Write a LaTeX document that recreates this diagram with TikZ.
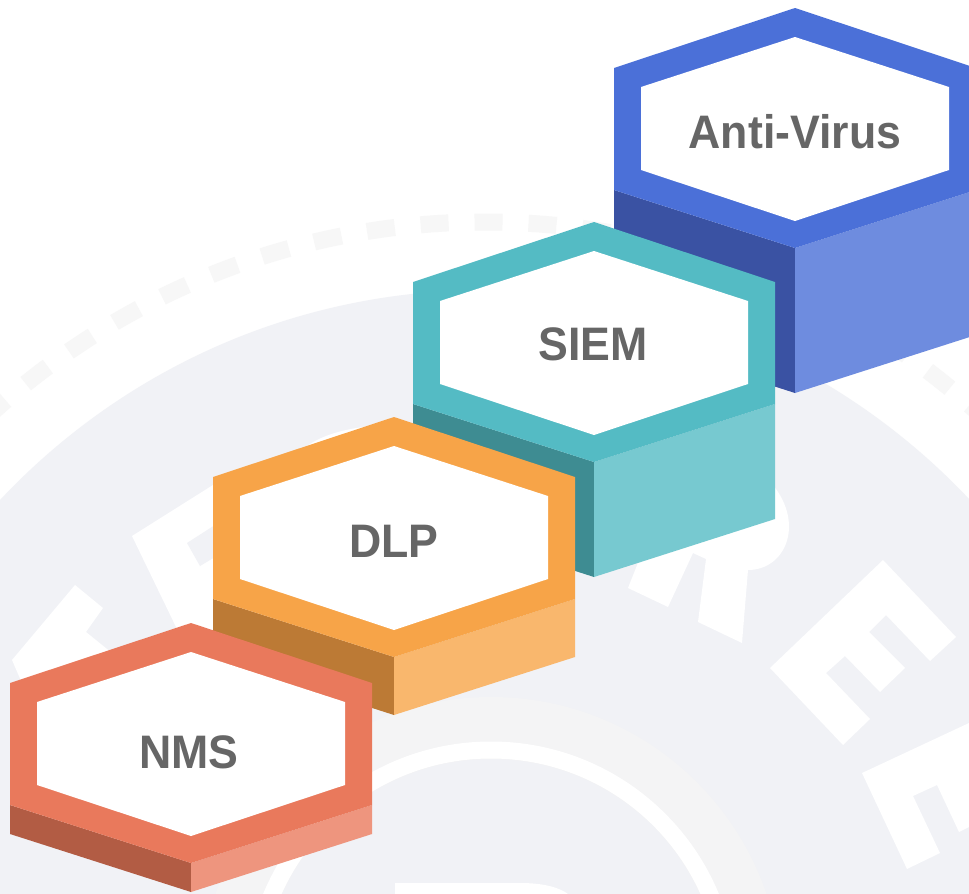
\documentclass[tikz,border=0pt]{standalone}
\usepackage{fontspec}
\newfontfamily\labfont[FakeStretch=0.95]{Liberation Sans}
\definecolor{bggray}{HTML}{F1F2F6}
\definecolor{dashgray}{HTML}{F7F7F7}
\definecolor{ringgray}{HTML}{F4F4F5}
\definecolor{txtgray}{HTML}{666666}
\definecolor{bluetop}{HTML}{4B70D8}
\definecolor{bluedark}{HTML}{3A52A3}
\definecolor{bluelight}{HTML}{6E8CDF}
\definecolor{tealtop}{HTML}{54BBC4}
\definecolor{tealdark}{HTML}{3E8C92}
\definecolor{teallight}{HTML}{77C9D0}
\definecolor{orangetop}{HTML}{F7A448}
\definecolor{orangedark}{HTML}{BC7A35}
\definecolor{orangelight}{HTML}{F9B76D}
\definecolor{redtop}{HTML}{E9795C}
\definecolor{reddark}{HTML}{B25C44}
\definecolor{redlight}{HTML}{EE957E}
\newcommand{\hexprism}[6]{%
  \fill[#5] ({#1-181},{#2+182}) -- ({#1},{#2+240}) -- ({#1},{#2+240+#3}) -- ({#1-181},{#2+182+#3}) -- cycle;
  \fill[#6] ({#1},{#2+240}) -- ({#1+181},{#2+182}) -- ({#1+181},{#2+182+#3}) -- ({#1},{#2+240+#3}) -- cycle;
  \fill[#4] ({#1},{#2}) -- ({#1+181},{#2+60}) -- ({#1+181},{#2+182}) -- ({#1},{#2+240}) -- ({#1-181},{#2+182}) -- ({#1-181},{#2+60}) -- cycle;
  \fill[white] ({#1},{#2+29}) -- ({#1+154},{#2+79}) -- ({#1+154},{#2+162}) -- ({#1},{#2+213}) -- ({#1-154},{#2+162}) -- ({#1-154},{#2+79}) -- cycle;
}
\tikzset{lbl/.style={font=\labfont\bfseries\fontsize{47}{50}\selectfont, text=txtgray, inner sep=0pt}}
\begin{document}
\begin{tikzpicture}[x=1pt,y=-1pt]
\useasboundingbox (0,0) rectangle (969,894);
\clip (0,0) rectangle (969,894);
\fill[white] (0,0) rectangle (969,894);
% watermark background
\draw[dashgray, line width=17pt, dash pattern=on 28pt off 26pt] (485,955) circle (733pt);
\fill[bggray] (485,955) circle (665pt);
\fill[ringgray] (491,988) circle (291pt);
\draw[white, line width=17pt] (491,988) circle (238pt);
\fill[bggray] (491,988) circle (229pt);
% white letter shapes
\fill[white] (132,536) -- (240,468) -- (240,660) -- (192,660) -- cycle;
\fill[bggray] (187,543) -- (215,525) -- (230,548) -- (200,566) -- cycle;
\fill[white] (75,585) -- (103,608) -- (86,632) -- (112,653) -- (70,700) -- (25,690) -- (12,660) -- cycle;
\fill[white] (300,452) .. controls (320,432) and (360,425) .. (395,425) -- (395,480) -- (300,480) -- cycle;
\fill[white] (628,588) -- (668,607) -- (693,553) -- (706,559) -- (698,622) -- (742,643) -- (748,570) .. controls (785,570) and (805,525) .. (773,485) -- (655,520) -- cycle;
\fill[white] (883,560) -- (956,637) -- (930,661) -- (886,615) -- (869,632) -- (905,668) -- (880,692) -- (845,656) -- (826,673) -- (870,719) -- (843,745) -- (770,668) -- cycle;
\fill[white] (862,773) -- (969,723) -- (969,827) -- (959,832) -- (937,785) -- (913,796) -- (940,853) -- (907,869) -- cycle;
\fill[white] (395,883) -- (520,883) .. controls (545,883) and (560,888) .. (568,894) -- (395,894) -- cycle;
% prisms
\hexprism{795}{8}{145}{bluetop}{bluedark}{bluelight}
\hexprism{594}{222}{115}{tealtop}{tealdark}{teallight}
\hexprism{394}{417}{58}{orangetop}{orangedark}{orangelight}
\hexprism{191}{623}{29}{redtop}{reddark}{redlight}
% labels
\node[lbl] (av) at (795,132) {Anti-Virus};
\node[lbl] (siem) at (593,344) {SIEM};
\node[lbl] (dlp) at (394,541) {DLP};
\node[lbl] (nms) at (189,752) {NMS};
\end{tikzpicture}
\end{document}
